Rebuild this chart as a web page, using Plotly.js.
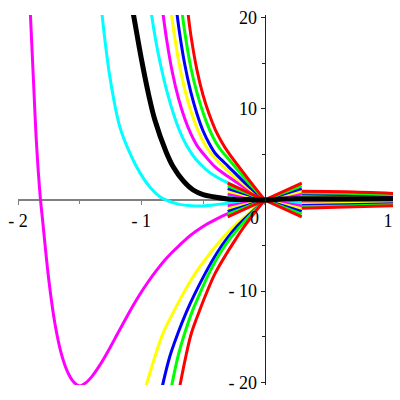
<!DOCTYPE html>
<html><head><meta charset="utf-8">
<script src="https://cdn.plot.ly/plotly-3.0.1.min.js"></script>
<style>html,body{margin:0;padding:0;background:#fff}#c{width:400px;height:400px}</style>
</head><body><div id="c"></div>
<script>
// ---- data ----
// upper family (positive on the left)
const upRedX = [-0.63,-0.62,-0.6,-0.55,-0.5,-0.45,-0.4,-0.35,-0.3,-0.15,0];
const upRedY = [21.4,20.3,18.2,14.3,11.5,9.4,7.7,6.4,5.3,2.6,0];
const upGreenX = [-0.678,-0.667,-0.65,-0.6,-0.55,-0.5,-0.45,-0.4,-0.35,-0.3,-0.15,0];
const upGreenY = [21.4,20.3,18.6,14.6,11.8,9.6,7.8,6.4,5.4,4.6,2.2,0];
const upBlueX = [-0.72,-0.71,-0.69,-0.65,-0.6,-0.55,-0.5,-0.45,-0.4,-0.35,-0.3,-0.15,0];
const upBlueY = [21.4,20.3,18.3,15.0,11.9,9.5,7.6,6.2,5.1,4.4,3.75,1.75,0];
const upYellowX = [-0.765,-0.755,-0.73,-0.69,-0.64,-0.59,-0.54,-0.49,-0.44,-0.37,-0.3,-0.15,0];
const upYellowY = [21.4,20.3,17.9,14.7,11.7,9.4,7.6,6.2,5.2,4.1,3.2,1.5,0];
const upMagentaX = [-0.833,-0.823,-0.795,-0.75,-0.7,-0.65,-0.6,-0.55,-0.48,-0.4,-0.3,-0.15,0];
const upMagentaY = [21.4,20.3,17.6,14.1,11.2,9.0,7.3,6.0,4.8,3.6,2.6,1.25,0];
const upCyanX = [-0.93,-0.917,-0.89,-0.85,-0.8,-0.743,-0.69,-0.63,-0.56,-0.48,-0.4,-0.3,-0.15,0];
const upCyanY = [21.4,20.3,18.0,15.2,12.3,9.6,7.6,5.9,4.5,3.4,2.6,1.9,0.9,0];
const blackX = [-1.08,-1.066,-1.0,-0.94,-0.891,-0.80,-0.742,-0.66,-0.58,-0.5,-0.42,-0.3,-0.15,0,0.15,0.3,0.6,1.04];
const blackY = [21.5,20.5,15.5,11.5,8.8,5.3,3.65,2.1,1.1,0.6,0.36,0.12,0.05,0,0.12,0.15,0.15,0.15];
const farCyanX = [-1.32,-1.255,-1.174,-1.093,-1.01,-0.93,-0.85,-0.8,-0.7,-0.6,-0.526,-0.42,-0.31,-0.15,0];
const farCyanY = [20.5,13.5,8.0,5.15,2.95,1.4,0.36,0,-0.45,-0.62,-0.66,-0.55,-0.37,-0.15,0];
// lower family (negative on the left)
const loRedX = [-0.689,-0.64,-0.594,-0.53,-0.472,-0.4,-0.31,-0.24,-0.176,-0.1,0];
const loRedY = [-20.5,-17.2,-14.6,-12.2,-10.2,-8.0,-5.9,-4.4,-3.1,-1.7,0];
const loGreenX = [-0.756,-0.7,-0.648,-0.59,-0.527,-0.45,-0.365,-0.28,-0.203,-0.1,0];
const loGreenY = [-20.5,-17.0,-14.6,-12.3,-10.3,-8.0,-5.9,-4.2,-2.96,-1.4,0];
const loBlueX = [-0.831,-0.77,-0.703,-0.635,-0.567,-0.48,-0.391,-0.31,-0.229,-0.11,0];
const loBlueY = [-20.5,-17.2,-14.6,-12.3,-10.3,-8.0,-5.9,-4.3,-2.96,-1.4,0];
const loYellowX = [-0.964,-0.89,-0.824,-0.74,-0.662,-0.56,-0.446,-0.35,-0.257,-0.12,0];
const loYellowY = [-20.5,-17.2,-14.6,-12.3,-10.3,-8.0,-5.9,-4.3,-2.96,-1.35,0];
const loMagentaX = [-1.92,-1.9,-1.876,-1.85,-1.82,-1.8,-1.75,-1.7,-1.65,-1.6,-1.55,-1.5,-1.45,-1.4,-1.35,-1.3,-1.25,-1.2,-1.15,-1.1,-1.05,-1.0,-0.95,-0.9,-0.85,-0.8,-0.75,-0.7,-0.6,-0.5,-0.4,-0.3,-0.2,-0.1,0];
const loMagentaY = [27,20.5,13.5,6.2,0.4,-2.3,-8.8,-13.6,-16.8,-18.8,-19.95,-20.4,-20.05,-19.35,-18.4,-17.3,-16.1,-14.85,-13.6,-12.38,-11.2,-10.1,-9.08,-8.13,-7.25,-6.45,-5.73,-5.08,-3.85,-2.9,-2.15,-1.5,-0.95,-0.45,0];
// fan of straight segments through the origin: value at x = -0.3 (mirrored at +0.3)
const fanColors = ['red','green','blue','yellow','magenta','cyan'];
const fanValues = [1.85,1.55,1.25,0.95,0.65,0.35];
const fanX = [-0.3,0,0.3];
// right-hand lines: values at x = 0.3, 0.65, 1.04
const rightX = [0.3,0.65,1.04];
const rightTop = [[0.95,0.9,0.72],[0.8,0.75,0.6],[0.65,0.6,0.5],[0.5,0.47,0.38],[0.38,0.35,0.28],[0.25,0.23,0.18]];
const rightBottom = [[-0.15,-0.13,-0.1],[-0.3,-0.26,-0.2],[-0.45,-0.39,-0.3],[-0.6,-0.52,-0.4],[-0.75,-0.65,-0.52],[-0.9,-0.78,-0.62]];
const rightBottomColors = ['cyan','magenta','yellow','blue','green','red'];
// axis ticks
const xTickVals = [-2,-1,0,1];
const xTickText = ['- 2','- 1','','1'];
const xMinor = [-1.5,-0.5,0.5];
const yTickVals = [-20,-10,10,20];
const yTickText = ['- 20','- 10','10','20'];
const yMinor = [-15,-5,5,15];

const col = {red:'#ff0000',green:'#00ff00',blue:'#0000ff',yellow:'#ffff00',magenta:'#ff00ff',cyan:'#00ffff',black:'#000000'};
function tr(x,y,c,w,shape){return {x:x,y:y,mode:'lines',type:'scatter',hoverinfo:'skip',
  line:{color:col[c],width:w||3,shape:shape||'spline',smoothing:1}};}
const traces = [];
traces.push(tr(farCyanX,farCyanY,'cyan'));
traces.push(tr(loMagentaX,loMagentaY,'magenta'));
traces.push(tr(upCyanX,upCyanY,'cyan'));
traces.push(tr(upMagentaX,upMagentaY,'magenta'));
traces.push(tr(upYellowX,upYellowY,'yellow'));
traces.push(tr(upBlueX,upBlueY,'blue'));
traces.push(tr(upGreenX,upGreenY,'green'));
traces.push(tr(upRedX,upRedY,'red'));
traces.push(tr(loYellowX,loYellowY,'yellow'));
traces.push(tr(loBlueX,loBlueY,'blue'));
traces.push(tr(loGreenX,loGreenY,'green'));
traces.push(tr(loRedX,loRedY,'red'));
for(let i=fanColors.length-1;i>=0;i--){
  const v=fanValues[i];
  traces.push(tr(fanX,[v,0,-v],fanColors[i],3,'linear'));
  traces.push(tr(fanX,[-v,0,v],fanColors[i],3,'linear'));
}
traces.push(tr(fanX,[0,0,0],'cyan',3,'linear'));
for(let i=fanColors.length-1;i>=0;i--){
  traces.push(tr(rightX,rightTop[i],fanColors[i],3,'spline'));
}
for(let i=0;i<rightBottomColors.length;i++){
  traces.push(tr(rightX,rightBottom[i],rightBottomColors[i],3,'spline'));
}
traces.push(tr(blackX,blackY,'black',5));

const tf = {family:'Liberation Serif, Times New Roman, serif',size:18,color:'#000'};
const layout = {
  width:400,height:400,margin:{l:18,r:7,t:15,b:15},
  paper_bgcolor:'#fff',plot_bgcolor:'#fff',showlegend:false,
  xaxis:{range:[-2,1.04],anchor:'free',position:0.5,showline:true,linecolor:'#808080',linewidth:2,
    ticks:'outside',ticklen:4,tickwidth:1,tickcolor:'#808080',tickmode:'array',tickvals:xTickVals,ticktext:xTickText,
    minor:{tickmode:'array',tickvals:xMinor,ticks:'outside',ticklen:3,tickcolor:'#808080',showgrid:false},
    showgrid:false,zeroline:false,layer:'below traces',tickfont:tf,fixedrange:true},
  yaxis:{range:[-20.3,20.3],anchor:'free',position:2/3.04,showline:true,linecolor:'#222',linewidth:1,
    ticks:'outside',ticklen:4,tickwidth:1,tickcolor:'#222',tickmode:'array',tickvals:yTickVals,ticktext:yTickText,
    minor:{tickmode:'array',tickvals:yMinor,ticks:'outside',ticklen:3,tickcolor:'#222',showgrid:false},
    showgrid:false,zeroline:false,layer:'above traces',tickfont:tf,fixedrange:true},
  annotations:[{x:-0.08,y:-2.0,xref:'x',yref:'y',text:'0',showarrow:false,font:tf,xanchor:'center',yanchor:'middle'}]
};
Plotly.newPlot('c',traces,layout,{staticPlot:true,displayModeBar:false});
</script></body></html>
